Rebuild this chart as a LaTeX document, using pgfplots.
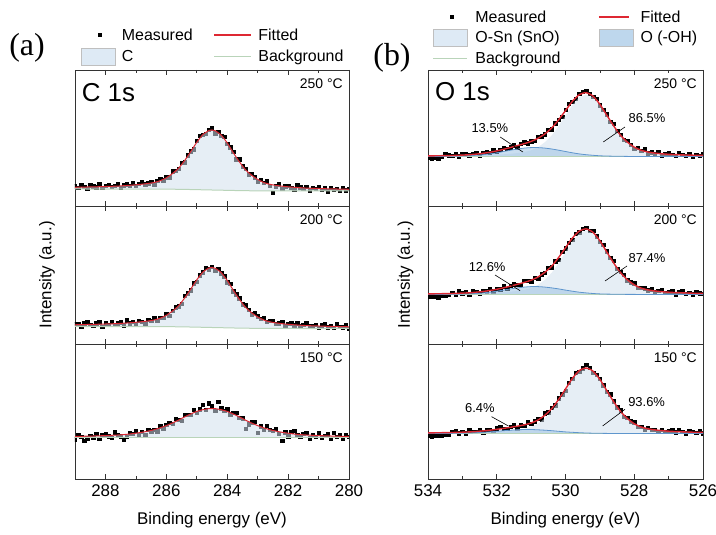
\documentclass[border=0pt]{standalone}
\usepackage{pgfplots}
\pgfplotsset{compat=1.18}
\usepackage{fontspec}
\setmainfont{Liberation Sans}
\newfontfamily\serifpanel{Liberation Serif}
\definecolor{fillmain}{RGB}{210,224,237}
\definecolor{filloh}{RGB}{150,190,225}
\definecolor{ohline}{RGB}{95,150,205}
\definecolor{fitred}{RGB}{222,40,50}
\definecolor{bgline}{RGB}{185,212,185}
\definecolor{legbox}{RGB}{222,234,245}
\definecolor{legboxoh}{RGB}{190,215,237}
\newcommand{\fs}[1]{\fontsize{#1}{#1}\selectfont}
\pgfplotsset{
  panel/.style={
    scale only axis, x dir=reverse, ytick=\empty,
    tick align=inside, xtick pos=both, minor x tick num=1,
    major tick length=5bp, minor tick length=3bp,
    axis line style={line width=0.8bp, black!80},
    every tick/.style={black!80, line width=0.7bp},
    xticklabel style={font=\fs{17}, yshift=-2bp},
    /pgf/number format/assume math mode=true,
    /pgf/number format/1000 sep={},
    clip marker paths=true,
    anchor=south west,
  },
  cpanel/.style={panel, width=274bp, xmin=280, xmax=289, xtick={280,282,284,286,288}},
  opanel/.style={panel, width=275bp, xmin=526, xmax=534, xtick={526,528,530,532,534}},
  upper/.style={xticklabels={}},
  meas/.style={only marks, mark=square*, mark size=1.7bp, black},
  fitC/.style={fitred, line width=1.0bp, smooth, tension=0.4},
  fitO/.style={fitred, line width=1.4bp, smooth, tension=0.4},
  compfill/.style={draw=none, fill=fillmain, fill opacity=0.55},
  ohfill/.style={draw=none, fill=filloh, fill opacity=0.5},
  bgl/.style={bgline, line width=1bp},
  ohl/.style={ohline, line width=0.8bp, smooth, tension=0.4},
  xlab/.style={xlabel={Binding energy (eV)}, xlabel style={font=\fs{17}, at={(axis description cs:0.5,-0.304)}, anchor=center}},
}
\begin{document}
\begin{tikzpicture}
\path[use as bounding box] (0bp,0bp) rectangle (716bp,535bp);
\node[font=\serifpanel\fs{32}] at (27bp,487bp) {(a)};
\node[font=\serifpanel\fs{32}] at (392bp,477bp) {(b)};

% ---------------- C 1s 250
\begin{axis}[cpanel, upper, at={(75bp,329bp)}, height=136bp, ymin=0, ymax=136,
  legend columns=2, legend cell align=left,
  legend style={draw=none, fill=none, inner sep=0pt, outer sep=0pt, font=\fs{16},
    at={(0.0219,1.316)}, anchor=north west, row sep=5bp,
    nodes={inner sep=1.5bp},
    /tikz/every odd column/.style={column sep=5bp},
    /tikz/every even column/.style={column sep=19bp}}]
\addlegendimage{legend image code/.code={\path[draw=none,fill=none] (0bp,-8bp) rectangle (34bp,8bp); \node[inner sep=0pt, minimum size=3.6bp, fill=black, draw=none] at (17bp,0bp) {};}}
\addlegendentry{Measured}
\addlegendimage{legend image code/.code={\draw[fitred, line width=1.6bp] (0bp,0bp) -- (37bp,0bp);}}
\addlegendentry{Fitted}
\addlegendimage{legend image code/.code={\draw[fill=legbox, draw=black!25] (0bp,-8.5bp) rectangle (34bp,8.5bp);}}
\addlegendentry{C}
\addlegendimage{legend image code/.code={\draw[bgline, line width=1bp] (0bp,0bp) -- (37bp,0bp);}}
\addlegendentry{Background}
\addplot[meas, forget plot] coordinates {(289.0,19.9)(288.9,18.0)(288.8,21.0)(288.7,19.3)(288.6,17.5)(288.5,20.9)(288.4,19.7)(288.3,18.8)(288.2,21.7)(288.1,18.3)(288.0,20.4)(287.9,21.1)(287.8,19.0)(287.7,20.0)(287.6,21.9)(287.5,18.3)(287.4,20.8)(287.3,21.6)(287.2,20.4)(287.1,22.7)(287.0,20.0)(286.9,22.3)(286.8,24.0)(286.7,21.6)(286.6,22.6)(286.5,24.4)(286.4,21.5)(286.3,25.1)(286.2,27.2)(286.1,25.8)(286.0,28.6)(285.9,28.9)(285.8,34.7)(285.7,35.0)(285.6,37.2)(285.5,43.1)(285.4,43.7)(285.3,50.8)(285.2,54.6)(285.1,56.8)(285.0,65.0)(284.9,70.0)(284.8,71.2)(284.7,72.5)(284.6,76.4)(284.5,77.8)(284.4,72.9)(284.3,74.0)(284.2,70.2)(284.1,69.3)(284.0,62.1)(283.9,58.6)(283.8,54.5)(283.7,46.8)(283.6,46.8)(283.5,39.9)(283.4,37.1)(283.3,31.9)(283.2,32.3)(283.1,28.8)(283.0,24.5)(282.9,26.0)(282.8,23.1)(282.7,24.7)(282.6,20.2)(282.5,13.5)(282.4,19.7)(282.3,21.9)(282.2,17.5)(282.1,19.8)(282.0,20.3)(281.9,18.4)(281.8,16.9)(281.7,20.7)(281.6,18.7)(281.5,17.0)(281.4,19.3)(281.3,15.8)(281.2,18.4)(281.1,17.4)(281.0,19.4)(280.9,16.0)(280.8,17.9)(280.7,14.7)(280.6,18.3)(280.5,16.35)(280.4,17.0)(280.3,15.05)(280.2,18.2)(280.1,15.6)(280.0,17.2)};
\addplot[compfill, forget plot] coordinates {(289.0,18.7)(288.8,18.9)(288.6,19.0)(288.4,19.1)(288.2,19.3)(288.0,19.5)(287.8,19.7)(287.6,19.9)(287.4,20.3)(287.2,20.7)(287.0,21.2)(286.8,21.8)(286.6,22.5)(286.4,23.5)(286.2,25.3)(286.0,28.2)(285.8,32.4)(285.6,37.7)(285.4,45.4)(285.2,54.3)(285.0,63.7)(284.8,71.4)(284.6,75.5)(284.5,76.0)(284.4,75.3)(284.2,71.0)(284.0,63.1)(283.8,53.3)(283.6,44.2)(283.4,36.3)(283.2,30.8)(283.0,26.6)(282.8,23.5)(282.6,21.7)(282.4,20.6)(282.2,19.8)(282.0,19.2)(281.8,18.7)(281.6,18.3)(281.4,17.9)(281.2,17.7)(281.0,17.5)(280.8,17.3)(280.6,17.1)(280.4,17.0)(280.2,16.9)(280.0,16.7)(280.0,15.0)(281.8,15.0)(282.4,15.06)(283.0,15.16)(283.4,15.3)(283.8,15.52)(284.2,15.8)(284.6,16.06)(285.0,16.34)(285.4,16.6)(285.8,16.78)(286.4,16.92)(287.0,16.97)(289.0,17.0)} -- cycle;
\addplot[bgl, smooth, forget plot] coordinates {(280.0,15.0)(281.8,15.0)(282.4,15.06)(283.0,15.16)(283.4,15.3)(283.8,15.52)(284.2,15.8)(284.6,16.06)(285.0,16.34)(285.4,16.6)(285.8,16.78)(286.4,16.92)(287.0,16.97)(289.0,17.0)};
\addplot[fitC, forget plot] coordinates {(289.0,18.7)(288.8,18.9)(288.6,19.0)(288.4,19.1)(288.2,19.3)(288.0,19.5)(287.8,19.7)(287.6,19.9)(287.4,20.3)(287.2,20.7)(287.0,21.2)(286.8,21.8)(286.6,22.5)(286.4,23.5)(286.2,25.3)(286.0,28.2)(285.8,32.4)(285.6,37.7)(285.4,45.4)(285.2,54.3)(285.0,63.7)(284.8,71.4)(284.6,75.5)(284.5,76.0)(284.4,75.3)(284.2,71.0)(284.0,63.1)(283.8,53.3)(283.6,44.2)(283.4,36.3)(283.2,30.8)(283.0,26.6)(282.8,23.5)(282.6,21.7)(282.4,20.6)(282.2,19.8)(282.0,19.2)(281.8,18.7)(281.6,18.3)(281.4,17.9)(281.2,17.7)(281.0,17.5)(280.8,17.3)(280.6,17.1)(280.4,17.0)(280.2,16.9)(280.0,16.7)};
\node[anchor=north west, inner sep=0pt, font=\fs{26}] at (rel axis cs:0.024,0.902) {C 1s};
\node[anchor=north east, inner sep=0pt, font=\fs{14}] at (rel axis cs:0.978,0.94) {250 °C};
\end{axis}

% ---------------- C 1s 200
\begin{axis}[cpanel, upper, at={(75bp,191bp)}, height=138bp, ymin=-0.5, ymax=137.5,
  ylabel={Intensity (a.u.)}, ylabel style={font=\fs{17}, at={(axis description cs:-0.102,0.5)}, anchor=center}]
\addplot[meas] coordinates {(289.0,19.7)(288.9,19.1)(288.8,16.7)(288.7,20.3)(288.6,21.5)(288.5,18.9)(288.4,17.8)(288.3,20.1)(288.2,21.1)(288.1,17.0)(288.0,20.1)(287.9,18.8)(287.8,21.7)(287.7,18.8)(287.6,20.1)(287.5,21.3)(287.4,18.4)(287.3,23.1)(287.2,20.4)(287.1,21.8)(287.0,19.6)(286.9,23.0)(286.8,21.9)(286.7,20.1)(286.6,23.5)(286.5,22.6)(286.4,25.6)(286.3,22.9)(286.2,25.8)(286.1,25.8)(286.0,29.9)(285.9,28.0)(285.8,32.7)(285.7,36.1)(285.6,37.1)(285.5,39.7)(285.4,47.6)(285.3,50.2)(285.2,53.2)(285.1,60.4)(285.0,61.7)(284.9,68.2)(284.8,71.2)(284.7,75.7)(284.6,74.1)(284.5,76.6)(284.4,72.8)(284.3,74.6)(284.2,70.3)(284.1,67.3)(284.0,61.2)(283.9,59.7)(283.8,52.1)(283.7,49.2)(283.6,45.4)(283.5,39.4)(283.4,38.4)(283.3,33.8)(283.2,29.3)(283.1,30.5)(283.0,27.2)(282.9,24.6)(282.8,25.9)(282.7,21.5)(282.6,22.6)(282.5,22.6)(282.4,19.9)(282.3,20.4)(282.2,21.8)(282.1,17.7)(282.0,19.7)(281.9,20.1)(281.8,18.4)(281.7,20.2)(281.6,17.1)(281.5,18.9)(281.4,20.1)(281.3,17.2)(281.2,17.8)(281.1,19.0)(281.0,15.5)(280.9,18.1)(280.8,19.2)(280.7,16.3)(280.6,17.5)(280.5,15.7)(280.4,19.3)(280.3,17.0)(280.2,16.4)(280.1,18.4)(280.0,15.0)};
\addplot[compfill] coordinates {(289.0,18.7)(288.8,18.9)(288.6,19.0)(288.4,19.1)(288.2,19.3)(288.0,19.5)(287.8,19.7)(287.6,19.9)(287.4,20.3)(287.2,20.7)(287.0,21.2)(286.8,21.8)(286.6,22.5)(286.4,23.5)(286.2,25.3)(286.0,28.2)(285.8,32.4)(285.6,37.7)(285.4,45.4)(285.2,54.3)(285.0,63.7)(284.8,71.4)(284.6,75.5)(284.5,76.0)(284.4,75.3)(284.2,71.0)(284.0,63.1)(283.8,53.3)(283.6,44.2)(283.4,36.3)(283.2,30.8)(283.0,26.6)(282.8,23.5)(282.6,21.7)(282.4,20.6)(282.2,19.8)(282.0,19.2)(281.8,18.7)(281.6,18.3)(281.4,17.9)(281.2,17.7)(281.0,17.5)(280.8,17.3)(280.6,17.1)(280.4,17.0)(280.2,16.9)(280.0,16.7)(280.0,15.0)(281.8,15.0)(282.4,15.06)(283.0,15.16)(283.4,15.3)(283.8,15.52)(284.2,15.8)(284.6,16.06)(285.0,16.34)(285.4,16.6)(285.8,16.78)(286.4,16.92)(287.0,16.97)(289.0,17.0)} -- cycle;
\addplot[bgl, smooth] coordinates {(280.0,15.0)(281.8,15.0)(282.4,15.06)(283.0,15.16)(283.4,15.3)(283.8,15.52)(284.2,15.8)(284.6,16.06)(285.0,16.34)(285.4,16.6)(285.8,16.78)(286.4,16.92)(287.0,16.97)(289.0,17.0)};
\addplot[fitC] coordinates {(289.0,18.7)(288.8,18.9)(288.6,19.0)(288.4,19.1)(288.2,19.3)(288.0,19.5)(287.8,19.7)(287.6,19.9)(287.4,20.3)(287.2,20.7)(287.0,21.2)(286.8,21.8)(286.6,22.5)(286.4,23.5)(286.2,25.3)(286.0,28.2)(285.8,32.4)(285.6,37.7)(285.4,45.4)(285.2,54.3)(285.0,63.7)(284.8,71.4)(284.6,75.5)(284.5,76.0)(284.4,75.3)(284.2,71.0)(284.0,63.1)(283.8,53.3)(283.6,44.2)(283.4,36.3)(283.2,30.8)(283.0,26.6)(282.8,23.5)(282.6,21.7)(282.4,20.6)(282.2,19.8)(282.0,19.2)(281.8,18.7)(281.6,18.3)(281.4,17.9)(281.2,17.7)(281.0,17.5)(280.8,17.3)(280.6,17.1)(280.4,17.0)(280.2,16.9)(280.0,16.7)};
\node[anchor=north east, inner sep=0pt, font=\fs{14}] at (rel axis cs:0.978,0.938) {200 °C};
\end{axis}

% ---------------- C 1s 150
\begin{axis}[cpanel, xlab, at={(75bp,56bp)}, height=135bp, ymin=0, ymax=135]
\addplot[meas] coordinates {(289.0,39.8)(288.9,43.9)(288.8,42.2)(288.7,38.6)(288.6,40.8)(288.5,43.6)(288.4,41.8)(288.3,45.3)(288.2,40.2)(288.1,43.7)(288.0,44.8)(287.9,42.8)(287.8,41.4)(287.7,46.8)(287.6,44.5)(287.5,42.8)(287.4,39.5)(287.3,42.1)(287.2,45.9)(287.1,45.1)(287.0,48.3)(286.9,44.5)(286.8,47.5)(286.7,44.1)(286.6,49.5)(286.5,47.7)(286.4,49.3)(286.3,47.8)(286.2,52.9)(286.1,50.7)(286.0,54.0)(285.9,56.3)(285.8,55.0)(285.7,60.2)(285.6,59.3)(285.5,58.5)(285.4,64.4)(285.3,64.4)(285.2,64.5)(285.1,69.4)(285.0,66.2)(284.9,69.7)(284.8,74.5)(284.7,69.0)(284.6,75.8)(284.5,73.1)(284.4,68.1)(284.3,77.0)(284.2,70.7)(284.1,68.0)(284.0,69.8)(283.9,64.7)(283.8,66.0)(283.7,66.4)(283.6,61.3)(283.5,60.6)(283.4,50.0)(283.3,54.9)(283.2,56.9)(283.1,57.2)(283.0,46.5)(282.9,52.8)(282.8,49.4)(282.7,53.2)(282.6,49.3)(282.5,48.0)(282.4,50.0)(282.3,45.1)(282.2,38.5)(282.1,46.6)(282.0,42.9)(281.9,47.1)(281.8,48.2)(281.7,44.4)(281.6,42.7)(281.5,45.4)(281.4,46.3)(281.3,40.8)(281.2,44.5)(281.1,42.6)(281.0,46.0)(280.9,42.0)(280.8,43.5)(280.7,44.7)(280.6,40.5)(280.5,46.3)(280.4,42.4)(280.3,43.8)(280.2,40.6)(280.1,44.6)(280.0,42.6)};
\addplot[compfill] coordinates {(289.0,42.5)(288.8,42.7)(288.6,42.8)(288.4,43.0)(288.2,43.2)(288.0,43.4)(287.8,43.7)(287.6,44.0)(287.4,44.4)(287.2,45.0)(287.0,45.8)(286.8,46.7)(286.6,47.9)(286.4,49.3)(286.2,51.2)(286.0,53.4)(285.8,56.0)(285.6,58.9)(285.4,62.1)(285.2,65.0)(285.0,67.6)(284.8,69.3)(284.6,70.4)(284.5,70.5)(284.4,70.4)(284.2,69.3)(284.0,67.6)(283.8,65.0)(283.6,62.1)(283.4,58.9)(283.2,56.0)(283.0,53.4)(282.8,51.2)(282.6,49.3)(282.4,47.9)(282.2,46.7)(282.0,45.8)(281.8,45.0)(281.6,44.4)(281.4,44.0)(281.2,43.7)(281.0,43.4)(280.8,43.2)(280.6,43.0)(280.4,42.8)(280.2,42.7)(280.0,42.5)(280.0,41.5)(289.0,41.5)} -- cycle;
\addplot[bgl] coordinates {(280.0,41.5)(289.0,41.5)};
\addplot[fitC] coordinates {(289.0,42.5)(288.8,42.7)(288.6,42.8)(288.4,43.0)(288.2,43.2)(288.0,43.4)(287.8,43.7)(287.6,44.0)(287.4,44.4)(287.2,45.0)(287.0,45.8)(286.8,46.7)(286.6,47.9)(286.4,49.3)(286.2,51.2)(286.0,53.4)(285.8,56.0)(285.6,58.9)(285.4,62.1)(285.2,65.0)(285.0,67.6)(284.8,69.3)(284.6,70.4)(284.5,70.5)(284.4,70.4)(284.2,69.3)(284.0,67.6)(283.8,65.0)(283.6,62.1)(283.4,58.9)(283.2,56.0)(283.0,53.4)(282.8,51.2)(282.6,49.3)(282.4,47.9)(282.2,46.7)(282.0,45.8)(281.8,45.0)(281.6,44.4)(281.4,44.0)(281.2,43.7)(281.0,43.4)(280.8,43.2)(280.6,43.0)(280.4,42.8)(280.2,42.7)(280.0,42.5)};
\node[anchor=north east, inner sep=0pt, font=\fs{14}] at (rel axis cs:0.978,0.938) {150 °C};
\end{axis}

% ---------------- O 1s 250
\begin{axis}[opanel, upper, at={(428bp,329bp)}, height=136bp, ymin=0, ymax=136,
  legend columns=2, legend cell align=left,
  legend style={draw=none, fill=none, inner sep=0pt, outer sep=0pt, font=\fs{16},
    at={(0.018,1.448)}, anchor=north west, row sep=4bp,
    nodes={inner sep=1.5bp},
    /tikz/every odd column/.style={column sep=6bp},
    /tikz/every even column/.style={column sep=36bp}}]
\addlegendimage{legend image code/.code={\path[draw=none,fill=none] (0bp,-8bp) rectangle (34bp,8bp); \node[inner sep=0pt, minimum size=3.6bp, fill=black, draw=none] at (17bp,0bp) {};}}
\addlegendentry{Measured}
\addlegendimage{legend image code/.code={\draw[fitred, line width=1.6bp] (0bp,0bp) -- (30bp,0bp);}}
\addlegendentry{Fitted}
\addlegendimage{legend image code/.code={\draw[fill=legbox, draw=black!25] (0bp,-8.5bp) rectangle (34bp,8.5bp);}}
\addlegendentry{O-Sn (SnO)}
\addlegendimage{legend image code/.code={\draw[fill=legboxoh, draw=black!25] (0bp,-8.5bp) rectangle (34bp,8.5bp);}}
\addlegendentry{O (-OH)}
\addlegendimage{legend image code/.code={\draw[bgline, line width=1bp] (0bp,0bp) -- (34bp,0bp);}}
\addlegendentry{Background}
\addplot[meas, forget plot] coordinates {(534.0,48.0)(533.9,47.6)(533.8,48.4)(533.7,47.9)(533.6,49.0)(533.5,51.8)(533.4,50.9)(533.3,50.2)(533.2,52.5)(533.1,49.9)(533.0,51.6)(532.9,52.3)(532.8,50.7)(532.7,51.8)(532.6,53.5)(532.5,50.9)(532.4,53.1)(532.3,54.1)(532.2,53.5)(532.1,55.8)(532.0,54.1)(531.9,56.5)(531.8,58.5)(531.7,57.1)(531.6,58.6)(531.5,60.6)(531.4,58.8)(531.3,62.0)(531.2,63.8)(531.1,62.8)(531.0,64.9)(530.9,65.0)(530.8,69.5)(530.7,69.9)(530.6,71.7)(530.5,76.4)(530.4,76.7)(530.3,82.9)(530.2,86.4)(530.1,89.0)(530.0,96.4)(529.9,102.0)(529.8,104.5)(529.7,107.0)(529.6,112.0)(529.5,114.2)(529.4,115.0)(529.3,112.5)(529.2,109.3)(529.1,107.4)(529.0,100.9)(528.9,96.5)(528.8,91.9)(528.7,84.0)(528.6,82.3)(528.5,75.3)(528.4,71.4)(528.3,66.0)(528.2,65.1)(528.1,61.5)(528.0,57.2)(527.9,58.1)(527.8,55.5)(527.7,56.6)(527.6,52.8)(527.5,53.8)(527.4,52.2)(527.3,54.0)(527.2,50.4)(527.1,52.2)(527.0,52.6)(526.9,51.1)(526.8,50.0)(526.7,53.1)(526.6,51.4)(526.5,50.1)(526.4,52.0)(526.3,49.2)(526.2,51.3)(526.1,50.4)(526.0,52.1)};
\addplot[compfill, forget plot] coordinates {(534.0,50.0)(533.8,50.1)(533.6,50.2)(533.4,50.2)(533.2,50.3)(533.0,50.4)(532.8,50.55)(532.6,50.7)(532.4,50.9)(532.2,51.1)(532.0,51.4)(531.8,51.7)(531.6,52.2)(531.4,52.9)(531.2,54.0)(531.0,55.7)(530.8,58.8)(530.6,63.8)(530.4,70.6)(530.2,79.9)(530.0,90.4)(529.8,101.0)(529.6,108.7)(529.4,111.5)(529.2,108.7)(529.0,101.0)(528.8,90.4)(528.6,79.9)(528.4,70.6)(528.2,63.8)(528.0,58.8)(527.8,55.7)(527.6,54.0)(527.4,52.9)(527.2,52.2)(527.0,51.7)(526.8,51.4)(526.6,51.1)(526.4,50.9)(526.2,50.7)(526.0,50.55)(526.0,49.5)(534.0,49.5)} -- cycle;
\addplot[ohfill, forget plot] coordinates {(534.0,49.55)(533.6,49.6)(533.4,49.7)(533.2,49.8)(533.0,49.95)(532.8,50.2)(532.6,50.7)(532.4,51.3)(532.2,52.1)(532.0,53.2)(531.8,54.5)(531.6,55.8)(531.4,57.0)(531.2,57.9)(531.0,58.4)(530.8,58.4)(530.6,57.9)(530.4,57.0)(530.2,55.8)(530.0,54.5)(529.8,53.2)(529.6,52.1)(529.4,51.3)(529.2,50.7)(529.0,50.2)(528.8,49.95)(528.6,49.8)(528.4,49.7)(528.2,49.6)(528.0,49.55)(526.0,49.5)(534.0,49.5)} -- cycle;
\addplot[bgl, forget plot] coordinates {(526.0,49.5)(534.0,49.5)};
\addplot[ohl, forget plot] coordinates {(534.0,49.55)(533.6,49.6)(533.4,49.7)(533.2,49.8)(533.0,49.95)(532.8,50.2)(532.6,50.7)(532.4,51.3)(532.2,52.1)(532.0,53.2)(531.8,54.5)(531.6,55.8)(531.4,57.0)(531.2,57.9)(531.0,58.4)(530.8,58.4)(530.6,57.9)(530.4,57.0)(530.2,55.8)(530.0,54.5)(529.8,53.2)(529.6,52.1)(529.4,51.3)(529.2,50.7)(529.0,50.2)(528.8,49.95)(528.6,49.8)(528.4,49.7)(528.2,49.6)(528.0,49.55)(526.0,49.5)};
\addplot[fitO, forget plot] coordinates {(534.0,50.1)(533.8,50.2)(533.6,50.3)(533.4,50.4)(533.2,50.6)(533.0,50.9)(532.8,51.3)(532.6,51.85)(532.4,52.7)(532.2,53.7)(532.0,55.05)(531.8,56.7)(531.6,58.5)(531.4,60.4)(531.2,62.3)(531.0,64.6)(530.8,67.7)(530.6,72.1)(530.4,78.05)(530.2,86.2)(530.0,95.4)(529.8,104.65)(529.6,111.3)(529.4,113.3)(529.2,109.9)(529.0,101.7)(528.8,90.9)(528.6,80.2)(528.4,70.8)(528.2,63.9)(528.0,58.9)(527.8,55.75)(527.6,53.96)(527.4,52.9)(527.2,52.2)(527.0,51.7)(526.8,51.4)(526.6,51.1)(526.4,50.9)(526.2,50.7)(526.0,50.55)};
\node[anchor=north west, inner sep=0pt, font=\fs{26}] at (rel axis cs:0.025,0.907) {O 1s};
\node[anchor=north east, inner sep=0pt, font=\fs{14}] at (rel axis cs:0.978,0.94) {250 °C};
\node[font=\fs{13}] at (axis cs:532.2,78) {13.5\%};
\draw[line width=0.6bp] (axis cs:531.9,69) -- (axis cs:531.24,54);
\node[font=\fs{13}] at (axis cs:527.63,88) {86.5\%};
\draw[line width=0.6bp] (axis cs:528.27,79) -- (axis cs:528.9,64);
\end{axis}

% ---------------- O 1s 200
\begin{axis}[opanel, upper, at={(428bp,191bp)}, height=138bp, ymin=0, ymax=138,
  ylabel={Intensity (a.u.)}, ylabel style={font=\fs{17}, at={(axis description cs:-0.082,0.5)}, anchor=center}]
\addplot[meas] coordinates {(534.0,47.5)(533.9,47.0)(533.8,47.8)(533.7,46.9)(533.6,48.2)(533.5,48.0)(533.4,49.0)(533.3,51.5)(533.2,49.1)(533.1,52.85)(533.0,50.7)(532.9,51.65)(532.8,49.9)(532.7,52.7)(532.6,51.9)(532.5,50.45)(532.4,53.3)(532.3,52.7)(532.2,55.2)(532.1,52.9)(532.0,55.1)(531.9,54.75)(531.8,57.6)(531.7,55.25)(531.6,58.1)(531.5,59.7)(531.4,59.2)(531.3,59.2)(531.2,63.35)(531.1,63.0)(531.0,62.9)(530.9,66.5)(530.8,65.4)(530.7,69.95)(530.6,71.5)(530.5,76.3)(530.4,76.8)(530.3,82.7)(530.2,84.5)(530.1,92.35)(530.0,95.6)(529.9,101.05)(529.8,104.4)(529.7,110.4)(529.6,111.9)(529.5,115.0)(529.4,116.1)(529.3,113.3)(529.2,113.4)(529.1,107.7)(529.0,102.1)(528.9,99.1)(528.8,92.6)(528.7,86.3)(528.6,83.0)(528.5,75.35)(528.4,72.1)(528.3,69.05)(528.2,63.7)(528.1,61.95)(528.0,60.8)(527.9,56.15)(527.8,56.3)(527.7,55.9)(527.6,53.9)(527.5,54.95)(527.4,52.0)(527.3,53.25)(527.2,54.1)(527.1,51.55)(527.0,51.9)(526.9,52.7)(526.8,49.8)(526.7,51.9)(526.6,52.7)(526.5,50.35)(526.4,51.2)(526.3,49.7)(526.2,52.5)(526.1,50.65)(526.0,50.2)};
\addplot[compfill] coordinates {(534.0,50.0)(533.8,50.1)(533.6,50.2)(533.4,50.3)(533.2,50.4)(533.0,50.5)(532.8,50.6)(532.6,50.7)(532.4,50.9)(532.2,51.2)(532.0,51.4)(531.8,51.8)(531.6,52.3)(531.4,53.0)(531.2,54.1)(531.0,55.9)(530.8,59.1)(530.6,64.2)(530.4,71.3)(530.2,80.9)(530.0,91.7)(529.8,102.6)(529.6,110.6)(529.4,113.5)(529.2,110.6)(529.0,102.6)(528.8,91.7)(528.6,80.9)(528.4,71.3)(528.2,64.2)(528.0,59.1)(527.8,55.9)(527.6,54.1)(527.4,53.0)(527.2,52.3)(527.0,51.8)(526.8,51.4)(526.6,51.2)(526.4,50.9)(526.2,50.7)(526.0,50.6)(526.0,49.5)(534.0,49.5)} -- cycle;
\addplot[ohfill] coordinates {(534.0,49.5)(533.4,49.7)(533.2,49.8)(533.0,49.9)(532.8,50.1)(532.6,50.5)(532.4,51.1)(532.2,51.8)(532.0,52.8)(531.8,53.9)(531.6,55.1)(531.4,56.1)(531.2,56.9)(531.0,57.4)(530.8,57.4)(530.6,56.9)(530.4,56.1)(530.2,55.1)(530.0,53.9)(529.8,52.8)(529.6,51.8)(529.4,51.1)(529.2,50.5)(529.0,50.1)(528.8,49.9)(528.6,49.8)(528.4,49.7)(528.0,49.6)(526.0,49.5)(534.0,49.5)} -- cycle;
\addplot[bgl] coordinates {(526.0,49.5)(534.0,49.5)};
\addplot[ohl] coordinates {(534.0,49.5)(533.4,49.7)(533.2,49.8)(533.0,49.9)(532.8,50.1)(532.6,50.5)(532.4,51.1)(532.2,51.8)(532.0,52.8)(531.8,53.9)(531.6,55.1)(531.4,56.1)(531.2,56.9)(531.0,57.4)(530.8,57.4)(530.6,56.9)(530.4,56.1)(530.2,55.1)(530.0,53.9)(529.8,52.8)(529.6,51.8)(529.4,51.1)(529.2,50.5)(529.0,50.1)(528.8,49.9)(528.6,49.8)(528.4,49.7)(528.0,49.6)(526.0,49.5)};
\addplot[fitO] coordinates {(534.0,50.1)(533.8,50.2)(533.6,50.3)(533.4,50.4)(533.2,50.6)(533.0,50.9)(532.8,51.2)(532.6,51.8)(532.4,52.5)(532.2,53.5)(532.0,54.7)(531.8,56.2)(531.6,57.9)(531.4,59.7)(531.2,61.55)(531.0,63.8)(530.8,67.0)(530.6,71.7)(530.4,77.9)(530.2,86.5)(530.0,96.2)(529.8,105.9)(529.6,112.9)(529.4,115.1)(529.2,111.7)(529.0,103.3)(528.8,92.1)(528.6,81.1)(528.4,71.4)(528.2,64.3)(528.0,59.2)(527.8,55.9)(527.6,54.1)(527.4,53.0)(527.2,52.3)(527.0,51.8)(526.8,51.4)(526.6,51.2)(526.4,50.9)(526.2,50.7)(526.0,50.6)};
\node[anchor=north east, inner sep=0pt, font=\fs{14}] at (rel axis cs:0.978,0.938) {200 °C};
\node[font=\fs{13}] at (axis cs:532.28,77) {12.6\%};
\draw[line width=0.6bp] (axis cs:532.05,69) -- (axis cs:531.32,53.3);
\node[font=\fs{13}] at (axis cs:527.63,86) {87.4\%};
\draw[line width=0.6bp] (axis cs:528.21,78) -- (axis cs:528.85,63);
\end{axis}

% ---------------- O 1s 150
\begin{axis}[opanel, xlab, at={(428bp,56bp)}, height=135bp, ymin=0, ymax=135]
\addplot[meas] coordinates {(534.0,43.5)(533.9,43.0)(533.8,43.8)(533.7,43.2)(533.6,44.0)(533.5,44.6)(533.4,44.8)(533.3,47.1)(533.2,48.1)(533.1,46.0)(533.0,47.1)(532.9,45.85)(532.8,48.9)(532.7,47.3)(532.6,47.1)(532.5,49.1)(532.4,46.7)(532.3,49.25)(532.2,49.0)(532.1,47.45)(532.0,50.7)(531.9,52.15)(531.8,50.4)(531.7,50.15)(531.6,52.4)(531.5,53.65)(531.4,50.9)(531.3,53.95)(531.2,53.5)(531.1,56.65)(531.0,55.2)(530.9,57.7)(530.8,60.0)(530.7,59.9)(530.6,65.9)(530.5,66.9)(530.4,71.0)(530.3,73.7)(530.2,80.8)(530.1,84.9)(530.0,88.3)(529.9,96.1)(529.8,100.3)(529.7,106.2)(529.6,107.2)(529.5,110.7)(529.4,114.0)(529.3,111.3)(529.2,106.1)(529.1,104.0)(529.0,100.55)(528.9,93.6)(528.8,87.1)(528.7,84.8)(528.6,77.7)(528.5,71.6)(528.4,68.75)(528.3,62.5)(528.2,61.1)(528.1,57.7)(528.0,56.8)(527.9,52.55)(527.8,52.5)(527.7,49.1)(527.6,51.2)(527.5,49.05)(527.4,49.1)(527.3,47.25)(527.2,49.4)(527.1,47.1)(527.0,48.2)(526.9,48.6)(526.8,46.85)(526.7,49.0)(526.6,47.4)(526.5,45.85)(526.4,48.3)(526.3,47.3)(526.2,46.4)(526.1,48.55)(526.0,45.7)};
\addplot[compfill] coordinates {(534.0,46.05)(533.8,46.1)(533.6,46.2)(533.4,46.3)(533.2,46.4)(533.0,46.5)(532.8,46.6)(532.6,46.7)(532.4,46.9)(532.2,47.2)(532.0,47.45)(531.8,47.8)(531.6,48.4)(531.4,49.1)(531.2,50.2)(531.0,52.0)(530.8,55.25)(530.6,60.45)(530.4,67.6)(530.2,77.35)(530.0,88.4)(529.8,99.45)(529.6,107.6)(529.4,110.5)(529.2,107.6)(529.0,99.45)(528.8,88.4)(528.6,77.35)(528.4,67.6)(528.2,60.45)(528.0,55.25)(527.8,52.0)(527.6,50.2)(527.4,49.1)(527.2,48.4)(527.0,47.8)(526.8,47.45)(526.6,47.2)(526.4,46.9)(526.2,46.7)(526.0,46.6)(526.0,45.5)(534.0,45.5)} -- cycle;
\addplot[ohfill] coordinates {(534.0,45.5)(533.4,45.6)(533.0,45.8)(532.8,46.0)(532.6,46.3)(532.4,46.7)(532.2,47.1)(532.0,47.7)(531.8,48.3)(531.6,48.8)(531.4,49.2)(531.2,49.5)(531.0,49.5)(530.8,49.2)(530.6,48.8)(530.4,48.3)(530.2,47.7)(530.0,47.1)(529.8,46.7)(529.6,46.3)(529.4,46.0)(529.2,45.8)(528.8,45.6)(528.4,45.5)(526.0,45.5)(534.0,45.5)} -- cycle;
\addplot[bgl] coordinates {(526.0,45.5)(534.0,45.5)};
\addplot[ohl] coordinates {(534.0,45.5)(533.4,45.6)(533.0,45.8)(532.8,46.0)(532.6,46.3)(532.4,46.7)(532.2,47.1)(532.0,47.7)(531.8,48.3)(531.6,48.8)(531.4,49.2)(531.2,49.5)(531.0,49.5)(530.8,49.2)(530.6,48.8)(530.4,48.3)(530.2,47.7)(530.0,47.1)(529.8,46.7)(529.6,46.3)(529.4,46.0)(529.2,45.8)(528.8,45.6)(528.4,45.5)(526.0,45.5)};
\addplot[fitO] coordinates {(534.0,46.1)(533.8,46.2)(533.6,46.3)(533.4,46.4)(533.2,46.6)(533.0,46.8)(532.8,47.1)(532.6,47.5)(532.4,48.1)(532.2,48.8)(532.0,49.7)(531.8,50.6)(531.6,51.7)(531.4,52.8)(531.2,54.1)(531.0,56.0)(530.8,59.0)(530.6,63.8)(530.4,70.4)(530.2,79.6)(530.0,90.0)(529.8,100.6)(529.6,108.4)(529.4,111.0)(529.2,107.9)(529.0,99.65)(528.8,88.5)(528.6,77.4)(528.4,67.65)(528.2,60.5)(528.0,55.3)(527.8,52.0)(527.6,50.2)(527.4,49.1)(527.2,48.4)(527.0,47.8)(526.8,47.45)(526.6,47.2)(526.4,46.9)(526.2,46.7)(526.0,46.6)};
\node[anchor=north east, inner sep=0pt, font=\fs{14}] at (rel axis cs:0.978,0.938) {150 °C};
\node[font=\fs{13}] at (axis cs:532.49,70.7) {6.4\%};
\draw[line width=0.6bp] (axis cs:532.15,62.3) -- (axis cs:531.66,53);
\node[font=\fs{13}] at (axis cs:527.64,77.3) {93.6\%};
\draw[line width=0.6bp] (axis cs:528.27,69.7) -- (axis cs:528.92,53);
\end{axis}
\end{tikzpicture}
\end{document}
